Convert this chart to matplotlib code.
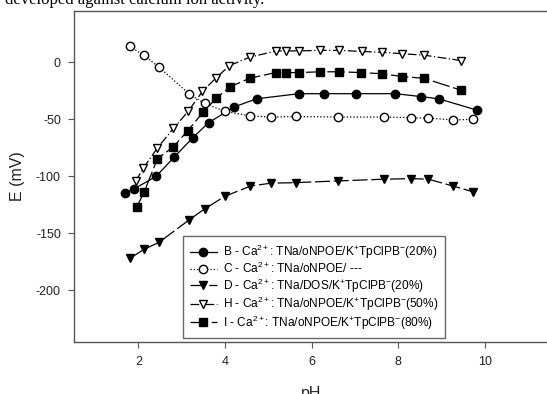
import matplotlib
matplotlib.use('Agg')
import matplotlib.pyplot as plt

plt.rcParams['font.family'] = ['Liberation Sans', 'DejaVu Sans']
plt.rcParams['mathtext.fontset'] = 'custom'
plt.rcParams['mathtext.rm'] = 'Liberation Sans'
plt.rcParams['mathtext.it'] = 'Liberation Sans:italic'
plt.rcParams['mathtext.bf'] = 'Liberation Sans:bold'
plt.rcParams['axes.unicode_minus'] = False

# series B - filled circles
pH_B = [1.68, 1.90, 2.41, 2.83, 3.26, 3.62, 4.22, 4.73, 5.71, 6.30, 7.02, 7.94, 8.52, 8.94, 9.83]
E_B = [-115, -111, -100, -83, -66, -53, -39, -32, -27.5, -27.5, -27.5, -27.5, -30, -32, -42]

# series C - open circles
pH_C = [1.80, 2.13, 2.47, 3.18, 3.53, 4.00, 4.59, 5.06, 5.64, 6.61, 7.67, 8.31, 8.70, 9.27, 9.73]
E_C = [14, 6, -4, -28, -36, -43, -47, -48, -47.5, -48, -48, -48.5, -49, -50.5, -50]

# series D - filled down triangles
pH_D = [1.80, 2.13, 2.47, 3.18, 3.53, 4.00, 4.59, 5.06, 5.64, 6.61, 7.67, 8.31, 8.70, 9.27, 9.73]
E_D = [-172, -164, -158, -138, -128.5, -117.5, -108.5, -106, -105.5, -104, -102.5, -102, -102.5, -108.5, -113.5]

# series H - open down triangles
pH_H = [1.94, 2.11, 2.44, 2.81, 3.15, 3.48, 3.80, 4.10, 4.57, 5.19, 5.41, 5.72, 6.20, 6.64, 7.17, 7.64, 8.10, 8.60, 9.46]
E_H = [-104, -93, -75, -58, -43, -25.5, -13.5, -3, 4.5, 10, 10, 10, 10.5, 10.5, 9.5, 8.8, 7.5, 6.3, 1.5]

# series I - filled squares
pH_I = [1.96, 2.13, 2.44, 2.81, 3.14, 3.49, 3.80, 4.12, 4.57, 5.17, 5.41, 5.72, 6.20, 6.64, 7.15, 7.62, 8.10, 8.60, 9.46]
E_I = [-127, -114, -84.5, -74, -60, -44, -31.5, -21.5, -14, -9, -9, -9, -8.3, -8.3, -9, -10, -12.5, -14, -24.5]

labels = [
    'B - Ca$^{2+}$: TNa/oNPOE/K$^{+}$TpClPB$^{-}$(20%)',
    'C - Ca$^{2+}$: TNa/oNPOE/ ---',
    'D - Ca$^{2+}$: TNa/DOS/K$^{+}$TpClPB$^{-}$(20%)',
    'H - Ca$^{2+}$: TNa/oNPOE/K$^{+}$TpClPB$^{-}$(50%)',
    'I - Ca$^{2+}$: TNa/oNPOE/K$^{+}$TpClPB$^{-}$(80%)',
]

fig = plt.figure(figsize=(5.47, 3.94), dpi=100)
ax = fig.add_axes([73.5 / 547, 52.3 / 394, 476 / 547, 330.7 / 394])

ms = 6
ax.plot(pH_B, E_B, '-', color='black', lw=0.9, marker='o', ms=ms, mfc='black', mec='black', label=labels[0])
ax.plot(pH_C, E_C, ':', color='black', lw=0.9, marker='o', ms=ms, mfc='white', mec='black', label=labels[1])
ax.plot(pH_D, E_D, color='black', lw=0.9, dashes=(12, 3), marker='v', ms=ms, mfc='black', mec='black', label=labels[2])
ax.plot(pH_H, E_H, color='black', lw=0.9, dashes=(7, 2, 1, 2), marker='v', ms=ms, mfc='white', mec='black', label=labels[3])
ax.plot(pH_I, E_I, color='black', lw=0.9, dashes=(14, 3), marker='s', ms=ms, mfc='black', mec='black', label=labels[4])

ax.set_xlim(0.5, 11.5)
ax.set_ylim(-245, 45)
ax.set_xticks([2, 4, 6, 8, 10])
ax.set_yticks([0, -50, -100, -150, -200])

for s in ax.spines.values():
    s.set_color('#555555')
    s.set_linewidth(1.0)
ax.tick_params(direction='out', length=4, width=0.8, color='#555555', labelsize=9, labelcolor='#222222')
ax.tick_params(axis='x', pad=6.5)
ax.tick_params(axis='y', pad=5)

ax.set_xlabel('pH', fontsize=11.5, labelpad=13, color='#222222')
ax.set_ylabel('E (mV)', fontsize=11.5, labelpad=8, color='#222222')

leg = ax.legend(loc='upper left', bbox_to_anchor=(183 / 547, 1 - 236 / 394), bbox_transform=fig.transFigure,
                borderaxespad=0, fontsize=8.6, frameon=True, fancybox=False, handlelength=2.3,
                handletextpad=0.5, labelspacing=0.02, borderpad=0.55)
leg.get_frame().set_edgecolor('#444444')
leg.get_frame().set_linewidth(1.0)

fig.text(5 / 547, 390 / 394, 'developed against calcium ion activity.', family='Liberation Serif',
         fontsize=12, va='baseline', ha='left')

fig.savefig('out.png', dpi=100)
